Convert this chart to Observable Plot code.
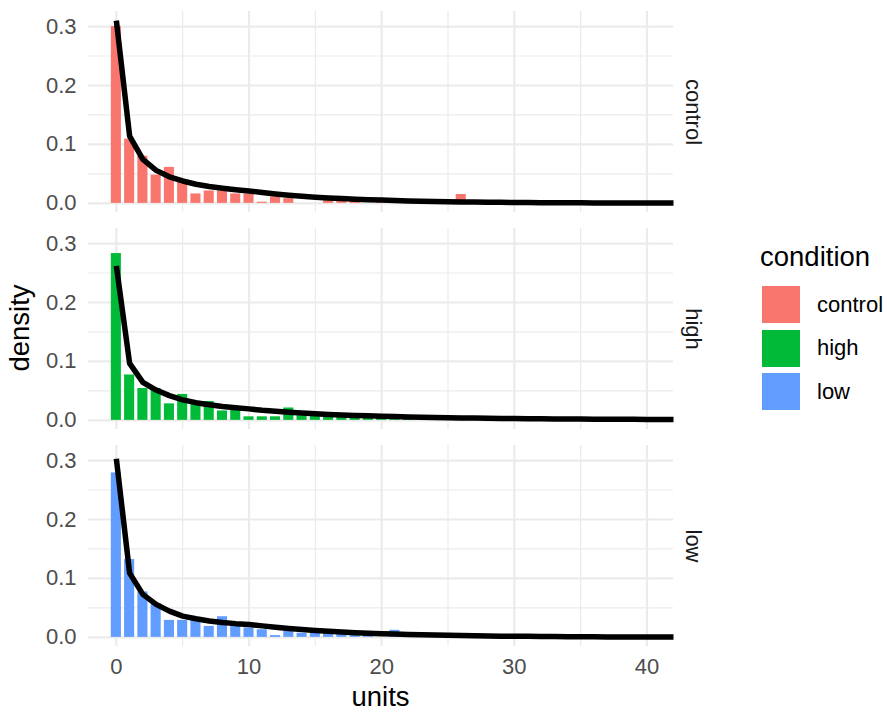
<!DOCTYPE html>
<html>
<head>
<meta charset="utf-8">
<script src="https://cdn.jsdelivr.net/npm/d3@7"></script>
<script src="https://cdn.jsdelivr.net/npm/@observablehq/plot@0.6"></script>
<style>
  body { margin: 0; background: #fff; font-family: "Liberation Sans", Arial, sans-serif; }
  #wrap { position: relative; width: 887px; height: 712px; overflow: hidden; }
  #chart { position: absolute; left: 0; top: 0; }
  .ylab { position: absolute; left: 20px; top: 328px; transform: translate(-50%, -50%) rotate(-90deg); font-size: 27.5px; line-height: 1; color: #000; white-space: nowrap; }
  .xlab { position: absolute; left: 380.5px; top: 682.7px; transform: translateX(-50%); font-size: 27.5px; line-height: 1; color: #000; white-space: nowrap; }
  .legend { position: absolute; left: 760px; top: 0; }
  .legend .title { position: absolute; left: 0; top: 242.7px; font-size: 27.5px; line-height: 1; color: #000; white-space: nowrap; }
  .legend .sw { position: absolute; left: 2px; width: 38px; height: 37px; }
  .legend .lab { position: absolute; left: 57px; font-size: 22px; line-height: 22px; color: #000; white-space: nowrap; transform: translateY(-50%); }
</style>
</head>
<body>
<div id="wrap">
  <div id="chart"></div>
  <div class="ylab">density</div>
  <div class="xlab">units</div>
  <div class="legend" id="legend"></div>
</div>
<script>
// ---- data ----
const conditions = ["control", "high", "low"];
const colors = ["#F8766D", "#00BA38", "#619CFF"];

const barUnits = [0,1,2,3,4,5,6,7,8,9,10,11,12,13,14,15,16,17,18,19,20,21,22,23,24,25,26];
const controlBars = [0.300,0.109,0.080,0.048,0.061,0.037,0.016,0.021,0.021,0.016,0.016,0.002,0.011,0.008,0,0,0.005,0.005,0.004,0,0.004,0.004,0.004,0,0,0,0.015];
const highBars    = [0.283,0.077,0.054,0.054,0.028,0.044,0.030,0.032,0.016,0.018,0.006,0.006,0.006,0.021,0.008,0.008,0.008,0.008,0.004,0.008,0.008,0.006,0.004,0,0,0,0];
const lowBars     = [0.279,0.132,0.077,0.0575,0.0288,0.0288,0.0288,0.0186,0.035,0.020,0.016,0.013,0.003,0.010,0.007,0.007,0.007,0.007,0.007,0.007,0,0.012,0,0,0,0,0];

const curveUnits = [0,1,2,3,4,5,6,7,8,9,10,11,12,13,14,15,16,17,18,19,20,21,22,23,24,25,26,27,28,29,30,31,32,33,34,35,36,37,38,39,40,41,42];
const controlCurve = [0.310,0.114,0.0745,0.056,0.045,0.038,0.0325,0.0285,0.0255,0.023,0.021,0.0185,0.016,0.0138,0.012,0.0105,0.0092,0.0081,0.0071,0.0062,0.0055,0.0048,0.0042,0.0037,0.0032,0.0028,0.0025,0.0022,0.0019,0.0017,0.0015,0.0013,0.0012,0.0011,0.0010,0.0009,0.0008,0.0007,0.0007,0.0006,0.0006,0.0005,0.0005];
const highCurve    = [0.262,0.0966,0.0645,0.0515,0.042,0.0347,0.030,0.0265,0.0235,0.0213,0.0195,0.0171,0.0153,0.0137,0.0123,0.0111,0.0101,0.0092,0.0084,0.0077,0.0070,0.0064,0.0059,0.0054,0.0050,0.0046,0.0042,0.0039,0.0036,0.0033,0.0031,0.0029,0.0027,0.0025,0.0023,0.0022,0.0020,0.0019,0.0018,0.0017,0.0016,0.0015,0.0014];
const lowCurve     = [0.303,0.109,0.073,0.056,0.0445,0.036,0.0315,0.0278,0.0252,0.0233,0.022,0.0195,0.017,0.015,0.0132,0.0116,0.0102,0.009,0.0079,0.007,0.0062,0.0055,0.0049,0.0043,0.0038,0.0034,0.003,0.0027,0.0024,0.0021,0.0019,0.0017,0.0015,0.0013,0.0012,0.0011,0.0009,0.0008,0.0007,0.0007,0.0006,0.0005,0.0005];

const xMajor = [0, 10, 20, 30, 40];
const xMinor = [5, 15, 25, 35];
const yMajor = [0, 0.1, 0.2, 0.3];
const yMinor = [0.05, 0.15, 0.25];

// ---- build tables ----
const barSets = [controlBars, highBars, lowBars];
const curveSets = [controlCurve, highCurve, lowCurve];
const bars = [];
conditions.forEach((c, i) => barUnits.forEach((u, j) => {
  if (barSets[i][j] > 0) bars.push({condition: c, unit: u, density: barSets[i][j]});
}));
const curve = [];
conditions.forEach((c, i) => curveUnits.forEach((u, j) => {
  curve.push({condition: c, unit: u, density: curveSets[i][j]});
}));

const grid = "#EBEBEB";
const plot = Plot.plot({
  width: 887,
  height: 712,
  marginLeft: 88,
  marginRight: 214,
  marginTop: 9.9,
  marginBottom: 65.5,
  style: {fontFamily: "'Liberation Sans', Arial, sans-serif", fontSize: "22px", background: "white", color: "#4D4D4D"},
  x: {domain: [-2.1, 42]},
  y: {domain: [-0.0155, 0.3255]},
  fy: {domain: conditions, paddingInner: 0.073, paddingOuter: 0, axis: null},
  color: {domain: conditions, range: colors},
  marks: [
    Plot.gridX({ticks: xMinor, stroke: grid, strokeOpacity: 1, strokeWidth: 1.2}),
    Plot.gridY({ticks: yMinor, stroke: grid, strokeOpacity: 1, strokeWidth: 1.2}),
    Plot.gridX({ticks: xMajor, stroke: grid, strokeOpacity: 1, strokeWidth: 2.2}),
    Plot.gridY({ticks: yMajor, stroke: grid, strokeOpacity: 1, strokeWidth: 2.2}),
    Plot.rect(bars, {x1: d => d.unit - 0.38, x2: d => d.unit + 0.38, y1: 0, y2: "density", fy: "condition", fill: "condition"}),
    Plot.line(curve, {x: "unit", y: "density", fy: "condition", stroke: "black", strokeWidth: 5.5, strokeLinejoin: "round", strokeLinecap: "butt"}),
    Plot.axisY({ticks: yMajor, tickFormat: d3.format(".1f"), tickSize: 0, tickPadding: 12, label: null, fill: "#4D4D4D", fontSize: 22}),
    Plot.axisX({ticks: xMajor, tickSize: 0, tickPadding: 12, label: null, fill: "#4D4D4D", fontSize: 22}),
    Plot.text(conditions, {fy: d => d, text: d => d, frameAnchor: "right", rotate: 90, dx: 20, textAnchor: "middle", lineAnchor: "middle", fill: "#1A1A1A", fontSize: 22})
  ]
});
document.getElementById("chart").appendChild(plot);

// ---- legend ----
const legend = document.getElementById("legend");
legend.innerHTML = `<div class="title">condition</div>`;
const swTops = [286, 329.5, 373];
conditions.forEach((c, i) => {
  const sw = document.createElement("div");
  sw.className = "sw";
  sw.style.top = swTops[i] + "px";
  sw.style.background = colors[i];
  legend.appendChild(sw);
  const lab = document.createElement("div");
  lab.className = "lab";
  lab.style.top = (swTops[i] + 18.5) + "px";
  lab.textContent = c;
  legend.appendChild(lab);
});
</script>
</body>
</html>
